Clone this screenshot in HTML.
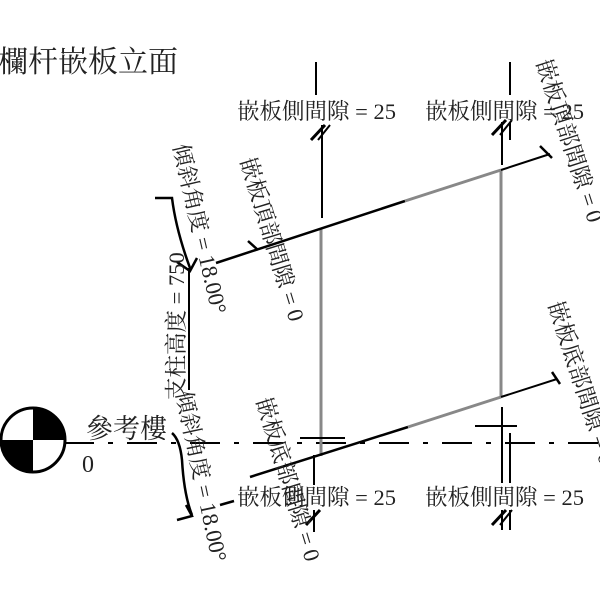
<!DOCTYPE html>
<html><head><meta charset="utf-8"><style>
html,body{margin:0;padding:0;background:#fff;}
svg{display:block;}
text{font-family:"Liberation Serif","Noto Serif CJK SC",serif;fill:#222;}
</style></head><body>
<svg width="600" height="600" viewBox="0 0 600 600" xmlns="http://www.w3.org/2000/svg">
<text x="-2" y="72" font-size="30">欄杆嵌板立面</text>

<!-- datum line -->
<line x1="64" y1="443" x2="600" y2="443" stroke="#000" stroke-width="2" stroke-dasharray="30,14,5,14"/>
<circle cx="33" cy="440" r="32" fill="#fff" stroke="#000" stroke-width="3"/>
<path d="M33,440 L33,408 A32,32 0 0 1 65,440 Z" fill="#000"/>
<path d="M33,440 L33,472 A32,32 0 0 1 1,440 Z" fill="#000"/>
<text x="86" y="438" font-size="27">參考樓</text>
<text x="82" y="472" font-size="24">0</text>

<!-- panel -->
<line x1="321" y1="229" x2="321" y2="456" stroke="#888" stroke-width="3"/>
<line x1="501" y1="170" x2="501" y2="397" stroke="#888" stroke-width="3"/>
<line x1="216" y1="263" x2="405" y2="201" stroke="#000" stroke-width="2.5"/>
<line x1="405" y1="201" x2="501" y2="170" stroke="#888" stroke-width="3"/>
<line x1="501" y1="170" x2="550" y2="154" stroke="#000" stroke-width="2"/>
<line x1="540" y1="146" x2="552" y2="158" stroke="#000" stroke-width="2.5"/>
<line x1="250" y1="477" x2="408" y2="427" stroke="#000" stroke-width="2.5"/>
<line x1="408" y1="427" x2="501" y2="397" stroke="#888" stroke-width="3"/>
<line x1="501" y1="397" x2="557" y2="379" stroke="#000" stroke-width="2"/>
<line x1="552" y1="372" x2="560" y2="384" stroke="#000" stroke-width="2.5"/>
<line x1="248" y1="241" x2="258" y2="250" stroke="#000" stroke-width="2.5"/>

<!-- vertical dimension lines top -->
<line x1="316" y1="62" x2="316" y2="95" stroke="#000" stroke-width="2"/>
<line x1="322" y1="125" x2="322" y2="218" stroke="#000" stroke-width="2"/>
<line x1="311" y1="140" x2="325" y2="125" stroke="#000" stroke-width="3"/>
<line x1="318" y1="140" x2="330" y2="125" stroke="#000" stroke-width="2"/>
<line x1="510" y1="62" x2="510" y2="95" stroke="#000" stroke-width="2"/>
<line x1="502" y1="122" x2="502" y2="165" stroke="#000" stroke-width="2"/>
<line x1="510" y1="122" x2="510" y2="140" stroke="#000" stroke-width="2"/>
<line x1="492" y1="135" x2="506" y2="120" stroke="#000" stroke-width="3"/>
<line x1="500" y1="135" x2="512" y2="120" stroke="#000" stroke-width="2"/>
<!-- bottom -->
<line x1="300" y1="438" x2="345" y2="438" stroke="#000" stroke-width="2"/>
<line x1="314" y1="455" x2="314" y2="485" stroke="#000" stroke-width="2"/>
<line x1="314" y1="510" x2="314" y2="532" stroke="#000" stroke-width="2"/>
<line x1="306" y1="525" x2="320" y2="510" stroke="#000" stroke-width="3"/>
<line x1="475" y1="426" x2="517" y2="426" stroke="#000" stroke-width="2"/>
<line x1="502" y1="407" x2="502" y2="483" stroke="#000" stroke-width="2"/>
<line x1="510" y1="433" x2="510" y2="483" stroke="#000" stroke-width="2"/>
<line x1="502" y1="510" x2="502" y2="530" stroke="#000" stroke-width="2"/>
<line x1="510" y1="510" x2="510" y2="530" stroke="#000" stroke-width="2"/>
<line x1="492" y1="525" x2="506" y2="510" stroke="#000" stroke-width="3"/>
<line x1="500" y1="525" x2="512" y2="510" stroke="#000" stroke-width="2"/>
<line x1="220" y1="505" x2="234" y2="501" stroke="#000" stroke-width="2.5"/>

<!-- post height -->
<line x1="189" y1="268" x2="189" y2="390" stroke="#000" stroke-width="2"/>
<!-- angle arcs -->
<path d="M155,198 L172,198 Q176,230 190,268" fill="none" stroke="#000" stroke-width="2.5"/>
<path d="M177,262 L190,271 L197,258" fill="none" stroke="#000" stroke-width="2.5"/>
<path d="M172,433 Q180,440 182,460 Q184,495 192,515" fill="none" stroke="#000" stroke-width="2.5"/>
<path d="M177,520 L192,516 L186,505" fill="none" stroke="#000" stroke-width="2.5"/>

<!-- labels -->
<text x="237" y="119" font-size="22.5">嵌板側間隙 = 25</text>
<text x="425" y="119" font-size="22.5">嵌板側間隙 = 25</text>
<text x="237" y="505" font-size="22.5">嵌板側間隙 = 25</text>
<text x="425" y="505" font-size="22.5">嵌板側間隙 = 25</text>
<text transform="translate(173,146) rotate(77)" font-size="22.5">傾斜角度 = 18.00°</text>
<text transform="translate(240,160) rotate(73)" font-size="22.5">嵌板頂部間隙 = 0</text>
<text transform="translate(536,62) rotate(72)" font-size="22.5">嵌板頂部間隙 = 0</text>
<text transform="translate(548,304) rotate(72)" font-size="22.5">嵌板底部間隙 = 0</text>
<text transform="translate(256,400) rotate(73)" font-size="22.5">嵌板底部間隙 = 0</text>
<text transform="translate(176,393) rotate(78)" font-size="22.5">傾斜角度 = 18.00°</text>
<text transform="translate(184,400) rotate(-90)" font-size="22.5">支柱高度 = 750</text>
</svg>
</body></html>
